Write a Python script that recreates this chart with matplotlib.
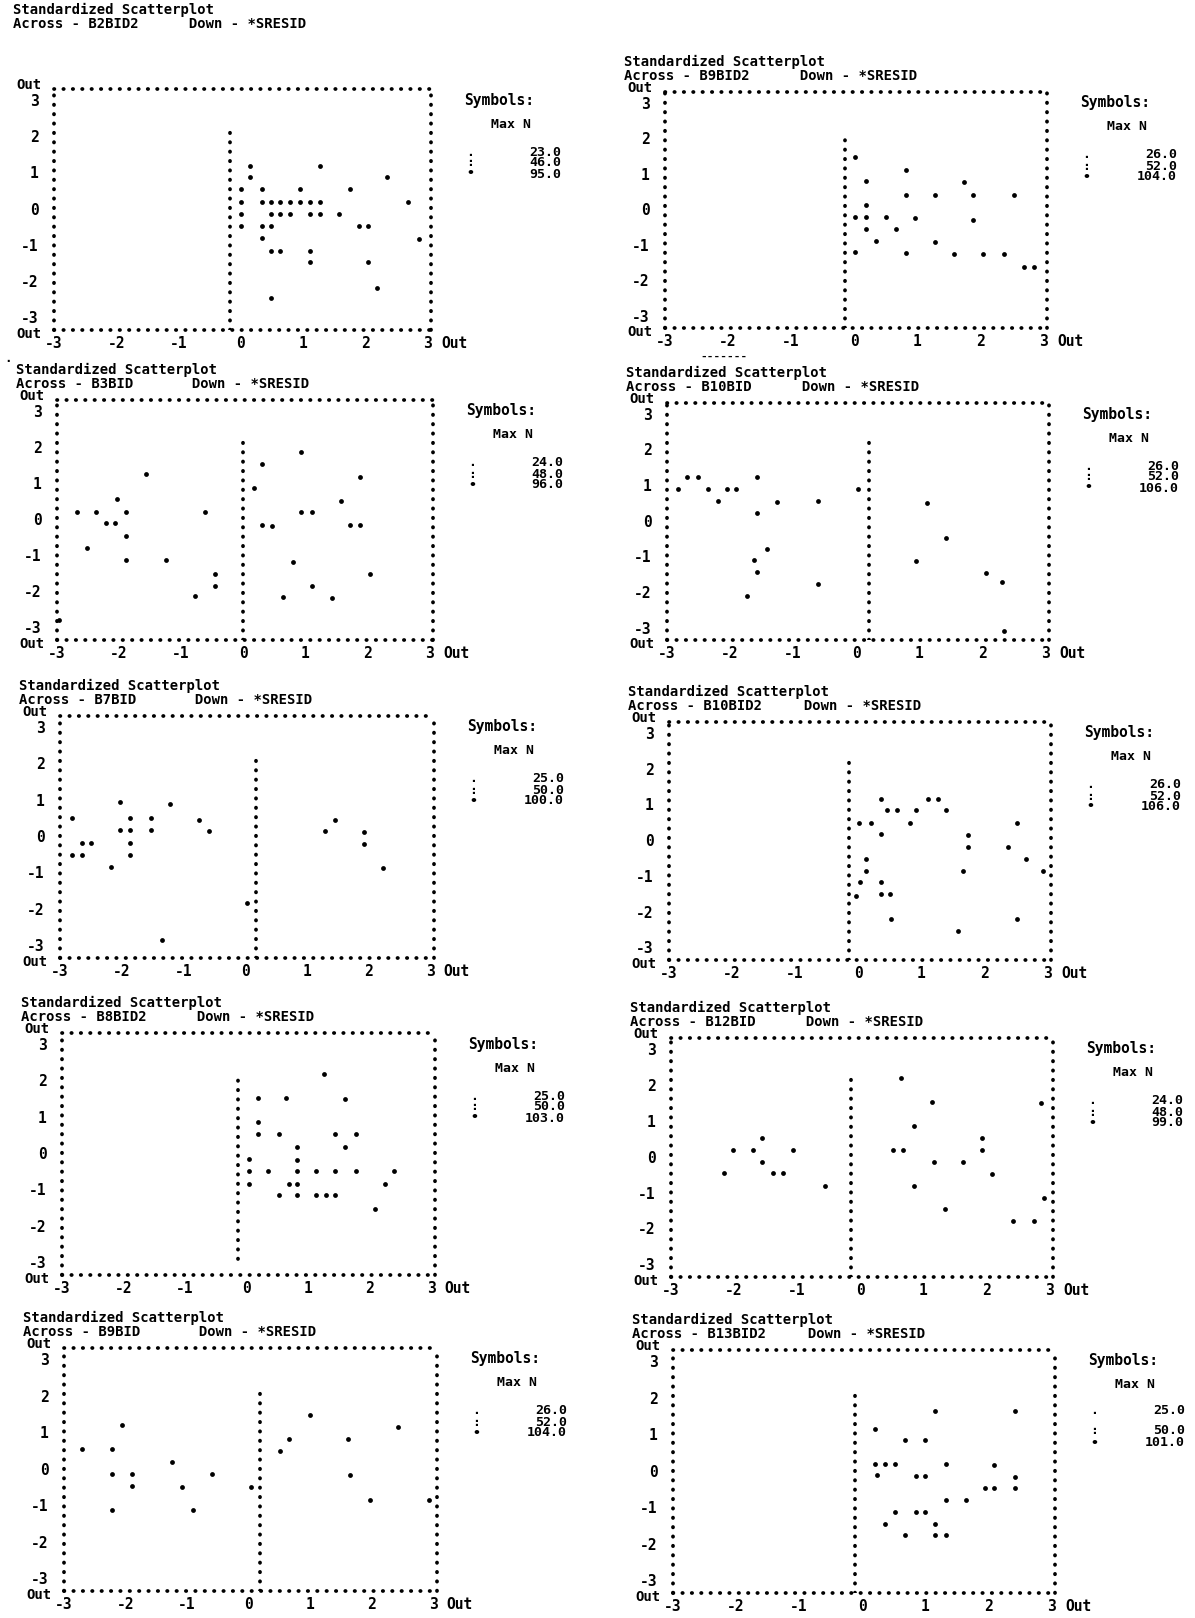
#standardized residual scatterplots (SPSS style, ten panels)

import matplotlib
matplotlib.use("Agg")
import matplotlib.pyplot as plt

#variable on the horizontal axis of each panel
across = ["B2BID2", "B9BID2", "B3BID", "B10BID", "B7BID",
          "B10BID2", "B8BID2", "B12BID", "B9BID", "B13BID2"]

#Max N column of the symbol legend
max_n = [["23.0", "46.0", "95.0"], ["26.0", "52.0", "104.0"],
         ["24.0", "48.0", "96.0"], ["26.0", "52.0", "106.0"],
         ["25.0", "50.0", "100.0"], ["26.0", "52.0", "106.0"],
         ["25.0", "50.0", "103.0"], ["24.0", "48.0", "99.0"],
         ["26.0", "52.0", "104.0"], ["25.0", "50.0", "101.0"]]

#stacked column of cases (x value, lowest and highest y)
col_x = [-0.17, -0.14, 0.0, 0.2, 0.18, -0.14, -0.14, -0.14, 0.19, -0.12]
col_lo = [-3.35, -3.35, -3.35, -3.35, -3.35, -3.35, -2.9, -3.35, -3.35, -3.35]
col_hi = [2.2, 2.14, 2.24, 2.22, 2.2, 2.17, 2.18, 2.18, 2.14, 2.28]

#scattered cases per panel
p1_x = [0.0, 0.0, 0.0, 0.0, 0.15, 0.15, 0.34, 0.34, 0.34, 0.34,
        0.49, 0.49, 0.49, 0.49, 0.49, 0.64, 0.64, 0.64, 0.80, 0.80,
        0.96, 0.96, 1.12, 1.12, 1.12, 1.12, 1.27, 1.27, 1.27,
        1.58, 1.75, 1.90, 2.05, 2.05, 2.20, 2.36, 2.69, 2.86]
p1_y = [0.53, 0.19, -0.14, -0.48, 1.18, 0.88, 0.53, 0.19, -0.48, -0.81,
        0.19, -0.14, -0.48, -1.16, -2.48, 0.19, -0.14, -1.16, 0.19, -0.14,
        0.53, 0.19, 0.19, -0.14, -1.16, -1.48, 1.18, 0.19, -0.14,
        -0.14, 0.53, -0.48, -0.48, -1.48, -2.18, 0.88, 0.19, -0.85]

p2_x = [0.02, 0.02, 0.02, 0.19, 0.19, 0.19, 0.19, 0.35, 0.51, 0.67,
        0.82, 0.82, 0.82, 0.97, 1.29, 1.29, 1.58, 1.74, 1.89, 1.89,
        2.05, 2.37, 2.53, 2.69, 2.85]
p2_y = [1.47, -0.21, -1.22, 0.79, 0.11, -0.21, -0.57, -0.90, -0.23, -0.57,
        1.09, 0.41, -1.24, -0.26, 0.41, -0.94, -1.26, 0.75, 0.39, -0.31,
        -1.26, -1.26, 0.39, -1.64, -1.64]

p3_x = [-2.67, -2.37, -2.21, -2.06, -2.04, -1.89, -1.89, -1.89, -1.57, -2.52,
        -1.25, -0.62, -0.46, -0.46, -0.77, 0.17, 0.31, 0.31, 0.46, 0.64,
        0.80, 0.94, 0.94, 1.11, 1.11, 1.43, 1.58, 1.72, 1.89, 1.89,
        2.05, -2.97]
p3_y = [0.21, 0.21, -0.11, -0.11, 0.57, 0.21, -0.46, -1.12, 1.24, -0.79,
        -1.12, 0.21, -1.51, -1.84, -2.14, 0.87, 1.54, -0.16, -0.18, -2.17,
        -1.19, 1.85, 0.19, 0.19, -1.86, -2.2, 0.51, -0.16, -0.16, 1.18,
        -1.51, -2.8]

p4_x = [-2.68, -2.51, -2.82, -2.35, -2.05, -1.90, -1.57, -2.19, -1.25, -0.61,
        -1.57, -1.41, -1.62, -1.57, -0.61, -1.73, 0.03, 1.12, 1.43, 0.95,
        2.06, 2.32, 2.34]
p4_y = [1.23, 1.23, 0.90, 0.90, 0.90, 0.90, 1.23, 0.56, 0.53, 0.54,
        0.21, -0.79, -1.11, -1.45, -1.79, -2.11, 0.88, 0.49, -0.49, -1.14,
        -1.48, -1.73, -3.1]

p5_x = [-2.81, -2.64, -2.49, -2.80, -2.64, -2.17, -2.02, -2.02, -1.86, -1.86,
        -1.86, -1.86, -1.53, -1.53, -1.22, -0.74, -0.58, -1.35, 0.03, 1.30,
        1.45, 1.92, 1.92, 2.24]
p5_y = [0.5, -0.19, -0.19, -0.51, -0.51, -0.86, 0.93, 0.17, 0.5, 0.17,
        -0.19, -0.51, 0.5, 0.17, 0.88, 0.45, 0.15, -2.85, -1.85, 0.15,
        0.45, 0.11, -0.23, -0.89]

p6_x = [0.02, 0.20, 0.12, 0.12, 0.03, 0.36, 0.36, 0.36, 0.36, 0.50,
        0.46, 0.61, 0.92, 1.11, 1.26, 1.40, 0.82, 0.52, -0.04, 1.75,
        1.75, 1.67, 2.37, 2.52, 2.67, 2.52, 1.58, 2.94]
p6_y = [0.49, 0.49, -0.52, -0.86, -1.17, 1.16, 0.17, -1.17, -1.51, -1.51,
        0.83, 0.83, 0.83, 1.16, 1.16, 0.83, 0.47, -2.2, -1.56, 0.15,
        -0.18, -0.86, -0.18, 0.47, -0.52, -2.2, -2.54, -0.86]

p7_x = [0.18, 0.64, 1.59, 1.26, 0.18, 0.18, 0.52, 1.44, 1.77, 0.81,
        1.60, 0.03, 0.82, 0.03, 0.35, 0.82, 1.13, 1.44, 1.77, 2.39,
        0.03, 0.68, 0.82, 2.24, 0.52, 0.82, 1.13, 1.29, 1.44, 2.08]
p7_y = [1.52, 1.52, 1.5, 2.18, 0.86, 0.53, 0.53, 0.53, 0.53, 0.16,
        0.16, -0.15, -0.18, -0.5, -0.5, -0.5, -0.5, -0.5, -0.5, -0.5,
        -0.84, -0.84, -0.84, -0.85, -1.16, -1.16, -1.16, -1.16, -1.16, -1.53]

p8_x = [-2.16, -2.01, -1.70, -1.55, -1.55, -1.38, -1.22, -1.06, -0.56, 0.52,
        0.68, 0.65, 0.85, 0.86, 1.14, 1.17, 1.34, 1.63, 1.93, 1.93,
        2.10, 2.42, 2.76, 2.87, 2.91]
p8_y = [-0.47, 0.19, 0.19, 0.53, -0.15, -0.47, -0.47, 0.19, -0.81, 0.19,
        0.19, 2.19, 0.85, -0.81, 1.53, -0.15, -1.47, -0.15, 0.51, 0.18,
        -0.49, -1.79, -1.79, 1.5, -1.15]

p9_x = [-2.71, -2.22, -2.06, -2.22, -1.90, -1.89, -2.22, -1.25, -1.08, -0.91,
        -0.59, 0.03, 0.51, 0.66, 0.99, 1.62, 1.64, 1.97, 2.43, 2.93]
p9_y = [0.53, 0.53, 1.18, -0.14, -0.14, -0.47, -1.14, 0.18, -0.5, -1.14,
        -0.14, -0.5, 0.48, 0.82, 1.47, 0.8, -0.18, -0.85, 1.14, -0.85]

p10_x = [0.21, 0.68, 1.00, 1.16, 0.21, 0.37, 0.52, 1.33, 0.24, 0.85,
         1.00, 2.10, 2.43, 2.43, 1.95, 2.10, 2.43, 1.33, 1.65, 0.52,
         0.85, 1.00, 0.37, 1.16, 0.68, 1.16, 1.33]
p10_y = [1.13, 0.83, 0.83, 1.63, 0.18, 0.18, 0.18, 0.18, -0.13, -0.15,
         -0.15, 0.16, 1.63, -0.18, -0.49, -0.49, -0.49, -0.8, -0.8, -1.13,
         -1.13, -1.13, -1.45, -1.45, -1.77, -1.77, -1.77]

xs = [p1_x, p2_x, p3_x, p4_x, p5_x, p6_x, p7_x, p8_x, p9_x, p10_x]
ys = [p1_y, p2_y, p3_y, p4_y, p5_y, p6_y, p7_y, p8_y, p9_y, p10_y]

ticks = [-3, -2, -1, 0, 1, 2, 3]
tick_labels = ["-3", "-2", "-1", "0", "1", "2", "3"]

#frame boxes in pixels: left, right, top, bottom
boxes = [(54, 431, 89, 330), (665, 1047, 92, 328),
         (57, 433, 400, 640), (667, 1049, 403, 640),
         (60, 434, 716, 958), (669, 1051, 722, 960),
         (62, 435, 1033, 1275), (671, 1053, 1038, 1277),
         (64, 437, 1348, 1591), (673, 1055, 1350, 1593)]

W, H = 1195, 1618
MONO = "DejaVu Sans Mono"
DOTS = (0, (0.1, 2.4))

fig = plt.figure(figsize=(W / 100., H / 100.), dpi=100)
fig.patch.set_facecolor("white")


def ftext(x, y, s, **kw):
    '''writes text at pixel position (x, y), y counted from the top'''
    kw.setdefault("fontsize", 10.5)
    kw.setdefault("va", "center")
    fig.text(x / W, 1 - y / H, s, family=MONO, fontweight="bold", color="k", **kw)


for i in range(10):
    l, r, t, b = boxes[i]
    ax = fig.add_axes([l / W, 1 - b / H, (r - l) / W, (b - t) / H])
    ax.set_xlim(-3.0, 3.06)
    ax.set_ylim(-3.35, 3.3)
    ax.set_facecolor("none")

    #dotted frame
    for sp in ax.spines.values():
        sp.set_linestyle(DOTS)
        sp.set_linewidth(2.7)
        sp.set_capstyle("round")

    ax.set_xticks(ticks)
    ax.set_xticklabels(tick_labels)
    ax.set_yticks(ticks)
    ax.set_yticklabels(tick_labels)
    ax.tick_params(length=0, labelsize=10.5)
    ax.tick_params(axis="y", pad=11)
    ax.tick_params(axis="x", pad=4)
    for lab in ax.get_xticklabels() + ax.get_yticklabels():
        lab.set_family(MONO)
        lab.set_fontweight("bold")

    #column of stacked cases and the scattered ones
    ax.vlines(col_x[i], col_lo[i], col_hi[i], colors="k",
              linestyles=DOTS, linewidth=2.7, capstyle="round")
    ax.scatter(xs[i], ys[i], s=12, c="k", marker="o", linewidths=0,
               clip_on=False, zorder=3)

    #Out labels
    for yy, dy in ((1, 3), (0, -3)):
        ax.annotate("Out", xy=(0, yy), xycoords="axes fraction", xytext=(-9, dy),
                    textcoords="offset points", ha="right", va="center",
                    family=MONO, fontweight="bold", fontsize=10)
    ax.annotate("Out", xy=(3.22, 0), xycoords=("data", "axes fraction"),
                xytext=(0, -4), textcoords="offset points", ha="left", va="top",
                family=MONO, fontweight="bold", fontsize=10.5)

    #title
    if i == 0:
        ty1, ty2 = 10, 24
    else:
        ty1, ty2 = t - 30, t - 16
    ftext(l - 41, ty1, "Standardized Scatterplot", fontsize=10)
    ftext(l - 41, ty2, "Across - %-7s     Down - *SRESID" % across[i], fontsize=10)

    #symbol legend
    ftext(r + 33, t + 11, "Symbols:")
    ftext(r + 60, t + 35, "Max N", fontsize=9.5)
    rows = (t + 60, t + 80, t + 93) if i == 9 else (t + 63, t + 74, t + 85)
    for sym, val, yy in zip([".", ":", "\u2022"], max_n[i], rows):
        ftext(r + 39, yy, sym, ha="center", fontsize=9.5)
        ftext(r + 130, yy, val, ha="right", fontsize=9.5)

#specks on the scanned page
ftext(700, 357, "-------", fontsize=8)
ftext(4, 358, ".", fontsize=9)

fig.savefig("out.png", dpi=100, facecolor="white")
